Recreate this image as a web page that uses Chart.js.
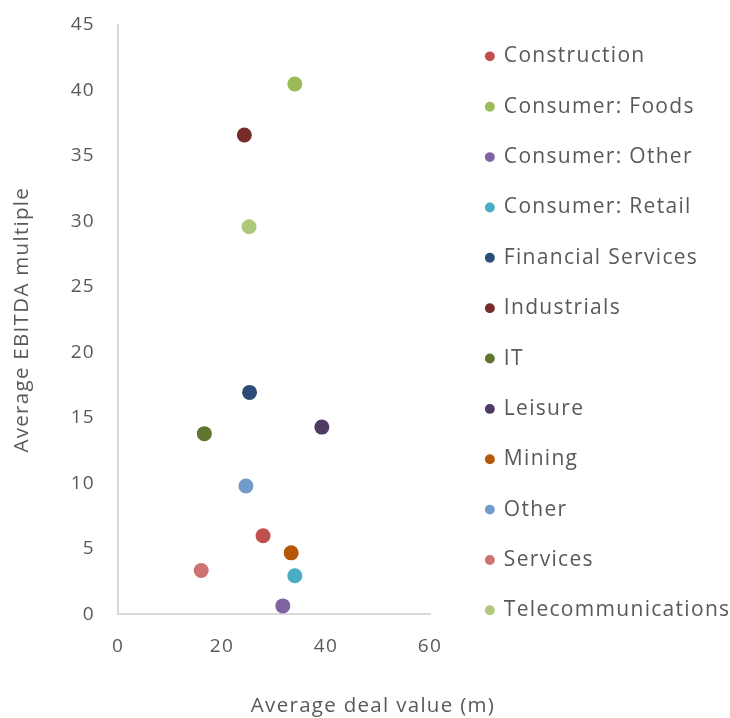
<!DOCTYPE html>
<html lang="en">
<head>
  <meta charset="UTF-8" />
  <title>Average deal value vs EBITDA multiple</title>
  <style>
    body {
      margin: 0;
      background: #fff;
    }
    #wrap {
      width: 730px;
      height: 718px;
    }
  </style>
</head>
<body>
  <div id="wrap"><canvas id="chart" width="730" height="718"></canvas></div>

  <script src="https://cdn.jsdelivr.net/npm/chart.js"></script>
  <script>
    // sectors and their values
    const sectors = [
      'Construction', 'Consumer: Foods', 'Consumer: Other', 'Consumer: Retail',
      'Financial Services', 'Industrials', 'IT', 'Leisure', 'Mining',
      'Other', 'Services', 'Telecommunications'
    ];
    const dealValues = [27.9, 34.0, 31.7, 34.0, 25.3, 24.3, 16.6, 39.2, 33.3, 24.6, 16.0, 25.2];
    const ebitdaMultiples = [6.0, 40.5, 0.65, 2.95, 16.95, 36.6, 13.8, 14.3, 4.7, 9.8, 3.35, 29.6];
    const xTicks = [0, 20, 40, 60];
    const yTicks = [0, 5, 10, 15, 20, 25, 30, 35, 40, 45];

    const colours = [
      '#C0504D', '#9BBB59', '#8064A2', '#4BACC6', '#2C4D75', '#772C2A',
      '#5F7530', '#4D3B62', '#B65708', '#729ACA', '#CD7371', '#AFC97A'
    ];

    const textColour = '#595959';
    const fontFamily = '"Open Sans", sans-serif';

    const datasets = sectors.map((name, i) => ({
      label: name,
      data: [{ x: dealValues[i], y: ebitdaMultiples[i] }],
      backgroundColor: colours[i],
      borderColor: colours[i],
      borderWidth: 0,
      pointRadius: 7.5,
      pointHoverRadius: 7.5
    }));

    // wider letter spacing to get closer to the original (Montserrat) text widths
    const spacing = {
      id: 'spacing',
      beforeLayout(chart) { chart.ctx.letterSpacing = '1.3px'; },
      beforeDraw(chart) { chart.ctx.letterSpacing = '1.3px'; }
    };

    // legend sits at a fixed width and is nudged into place, x title too
    const legendFix = {
      id: 'legendFix',
      beforeLayout(chart) {
        const lg = chart.legend;
        if (lg && !lg._fixed) {
          const fit = lg.fit;
          lg.fit = function () {
            fit.call(this);
            this.width = 300;
          };
          lg._fixed = true;
        }
      },
      afterLayout(chart) {
        chart.legend.left += 27;
        chart.legend.top += 16.5;
        if (chart.titleBlock) {
          chart.titleBlock.left += 8;
          chart.titleBlock.right += 8;
        }
      }
    };

    new Chart(document.getElementById('chart'), {
      type: 'scatter',
      data: { datasets },
      plugins: [spacing, legendFix],
      options: {
        responsive: false,
        animation: false,
        layout: { padding: 0 },
        plugins: {
          tooltip: { enabled: false },
          legend: {
            position: 'right',
            align: 'start',
            labels: {
              usePointStyle: true,
              pointStyle: 'circle',
              boxWidth: 7,
              boxHeight: 7,
              padding: 29.36,
              color: textColour,
              font: { family: fontFamily, size: 21 }
            }
          },
          title: {
            display: true,
            position: 'bottom',
            text: 'Average deal value (m)',
            color: textColour,
            font: { family: fontFamily, size: 20.5, weight: 'normal' },
            padding: { top: 0, bottom: 0 }
          }
        },
        scales: {
          x: {
            type: 'linear',
            min: 0,
            max: 60,
            afterBuildTicks: s => { s.ticks = xTicks.map(v => ({ value: v })); },
            afterFit: s => { s.height = 79; },
            grid: { display: false, drawTicks: false },
            border: { display: true, color: '#D9D9D9', width: 2 },
            ticks: {
              padding: 21,
              color: textColour,
              font: { family: fontFamily, size: 19 }
            }
          },
          y: {
            type: 'linear',
            min: 0,
            max: 45,
            afterBuildTicks: s => { s.ticks = yTicks.map(v => ({ value: v })); },
            afterFit: s => {
              s.width = 118;
              s.paddingTop = 25;
              s.paddingBottom = 0;
            },
            grid: { display: false, drawTicks: false },
            border: { display: true, color: '#D9D9D9', width: 2 },
            ticks: {
              padding: 23,
              color: textColour,
              font: { family: fontFamily, size: 19 }
            },
            title: {
              display: true,
              text: 'Average EBITDA multiple',
              color: textColour,
              font: { family: fontFamily, size: 20.5 },
              padding: { top: 10, bottom: 0 }
            }
          }
        }
      }
    });
  </script>
</body>
</html>
